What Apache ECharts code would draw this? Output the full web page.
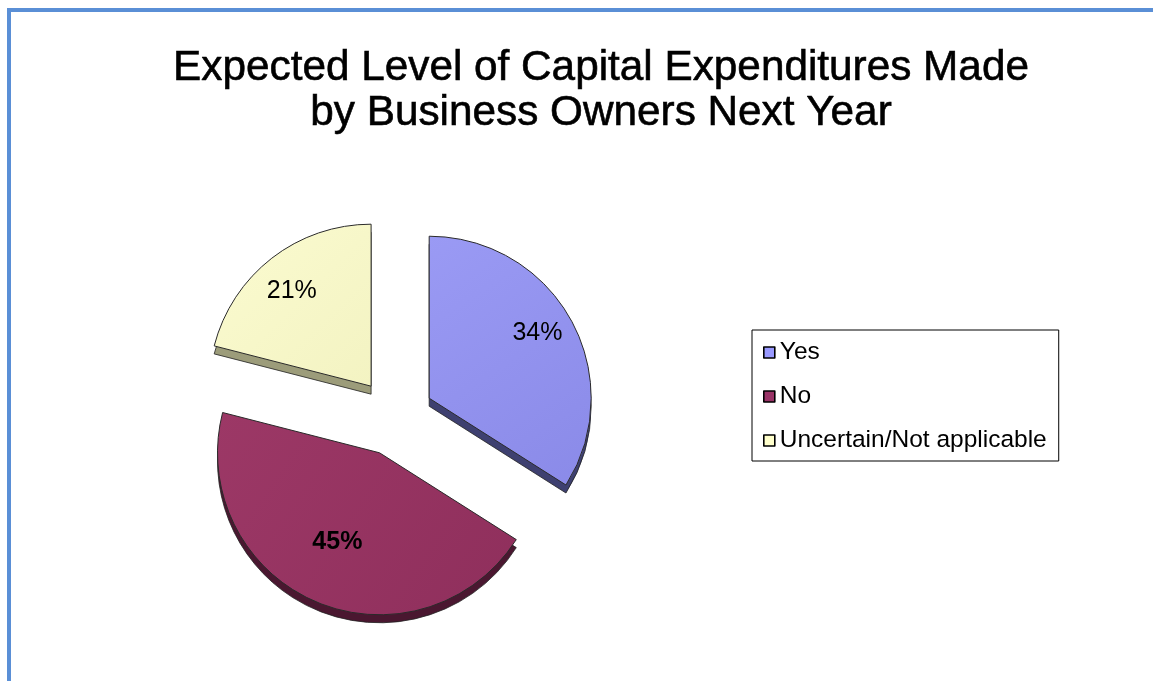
<!DOCTYPE html>
<html>
<head>
<meta charset="utf-8">
<script src="https://cdn.jsdelivr.net/npm/echarts@6/dist/echarts.min.js"></script>
<style>
  html, body { margin: 0; padding: 0; background: #fff; overflow: hidden; }
  #frame { position: absolute; left: 7px; top: 8px; width: 1300px; height: 900px;
           border-left: 4px solid #5a8fd6; border-top: 4px solid #5a8fd6; }
  #chart { position: absolute; left: 0; top: 0; width: 1153px; height: 681px; }
</style>
</head>
<body>
<div id="frame"></div>
<div id="chart"></div>
<script>
// Survey answers and their shares (percent)
const categories = ['Yes', 'No', 'Uncertain/Not applicable'];
const values = [34, 45, 21];

// Slice fills, side-face tones and label styling
const fills = ['#9a9af4', '#9c3866', '#fbfbd0'];
const fillsDark = ['#8a8ae8', '#8f2f5c', '#f3f3c2'];
const sides = ['#3e4070', '#4a1730', '#9c9c7a'];
const legendColors = ['#9999ff', '#993366', '#ffffcc'];
const labelWeights = ['normal', 'bold', 'normal'];
// small nudges of the percentage labels along each slice
const labelShift = [[2, -7], [6, -22], [-5, 1]];

const chart = echarts.init(document.getElementById('chart'), null, { renderer: 'canvas' });

const center = [395, 417];
const radius = 162;
const explode = 39;
const depth = 8;

const sliceData = categories.map((name, i) => ({
  name: name,
  value: values[i],
  selected: true,
  itemStyle: {
    color: new echarts.graphic.LinearGradient(0, 0, 1, 1, [
      { offset: 0, color: fills[i] },
      { offset: 1, color: fillsDark[i] }
    ])
  }
}));

// Darker copy drawn a few pixels lower to give each slice a visible edge
const sideData = categories.map((name, i) => ({
  name: name,
  value: values[i],
  selected: true,
  itemStyle: { color: sides[i] }
}));

const labelData = categories.map((name, i) => ({
  name: name,
  value: values[i],
  selected: true,
  label: { fontWeight: labelWeights[i] }
}));

const pieBase = {
  type: 'pie',
  startAngle: 90,
  selectedMode: 'multiple',
  selectedOffset: explode,
  silent: true,
  labelLine: { show: false }
};

chart.setOption({
  animation: false,
  color: legendColors,
  title: {
    text: 'Expected Level of Capital Expenditures Made\nby Business Owners Next Year',
    left: 596,
    textAlign: 'center',
    top: 41,
    textStyle: {
      fontFamily: 'Liberation Sans, Arial, sans-serif',
      fontSize: 42.3,
      fontWeight: 'normal',
      color: '#000',
      lineHeight: 45,
      textBorderColor: '#000',
      textBorderWidth: 0.6
    }
  },
  legend: {
    orient: 'vertical',
    left: 752,
    top: 330,
    data: categories.map((name, i) => ({ name: name, itemStyle: { color: legendColors[i] } })),
    icon: 'rect',
    itemWidth: 11,
    itemHeight: 11,
    itemGap: 19,
    padding: [10, 12, 8, 11],
    borderColor: '#000',
    borderWidth: 1,
    selectedMode: false,
    itemStyle: { borderColor: '#000', borderWidth: 1.6 },
    textStyle: {
      fontFamily: 'Liberation Sans, Arial, sans-serif',
      fontSize: 24.5,
      lineHeight: 24,
      color: '#000'
    }
  },
  series: [
    Object.assign({}, pieBase, {
      center: [center[0], center[1] + depth],
      radius: [0, radius],
      legendHoverLink: false,
      label: { show: false },
      itemStyle: { borderColor: '#222', borderWidth: 0.8 },
      select: { itemStyle: { borderColor: '#222', borderWidth: 0.8 } },
      data: sideData
    }),
    Object.assign({}, pieBase, {
      center: center,
      radius: [0, radius],
      label: { show: false },
      itemStyle: { borderColor: '#2a2a2a', borderWidth: 1 },
      select: { itemStyle: { borderColor: '#2a2a2a', borderWidth: 1 } },
      data: sliceData
    }),
    Object.assign({}, pieBase, {
      center: center,
      radius: [radius * 0.46, radius],
      legendHoverLink: false,
      itemStyle: { color: 'rgba(0,0,0,0)', borderWidth: 0 },
      select: { itemStyle: { color: 'rgba(0,0,0,0)', borderWidth: 0 } },
      label: {
        show: true,
        position: 'inside',
        formatter: p => p.value + '%',
        fontFamily: 'Liberation Sans, Arial, sans-serif',
        fontSize: 25,
        color: '#000'
      },
      labelLayout: p => ({ dx: labelShift[p.dataIndex][0], dy: labelShift[p.dataIndex][1] }),
      data: labelData
    })
  ]
});
</script>
</body>
</html>
